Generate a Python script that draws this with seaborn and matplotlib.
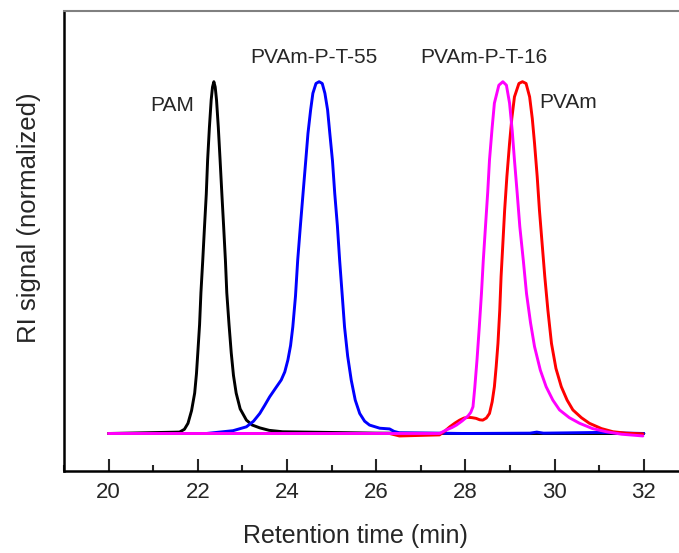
import matplotlib
matplotlib.use("Agg")
import matplotlib.pyplot as plt
from matplotlib.ticker import MultipleLocator
import seaborn as sns
import pandas as pd

# ---- data ----
pam_x = [20.0, 21.59, 21.70, 21.78, 21.86, 21.93, 21.97, 22.00, 22.04, 22.07, 22.11, 22.15,
         22.19, 22.22, 22.26, 22.30, 22.33, 22.36, 22.39, 22.42, 22.46, 22.50, 22.54, 22.58,
         22.62, 22.65, 22.70, 22.75, 22.80, 22.86, 22.95, 23.09, 23.22, 23.39, 23.60, 23.90,
         26.0, 28.0, 30.0, 32.0]
pam_y = [0.0, 0.004, 0.012, 0.029, 0.065, 0.115, 0.17, 0.229, 0.31, 0.40, 0.49, 0.587,
         0.68, 0.777, 0.87, 0.948, 0.985, 1.0, 0.985, 0.948, 0.87, 0.777, 0.68, 0.587,
         0.49, 0.40, 0.31, 0.229, 0.165, 0.115, 0.07, 0.038, 0.024, 0.016, 0.009, 0.005,
         0.001, 0.0, 0.0, 0.0]

p55_x = [20.0, 22.19, 22.79, 23.09, 23.25, 23.39, 23.50, 23.61, 23.75, 23.87, 23.95, 24.02,
         24.08, 24.13, 24.19, 24.24, 24.30, 24.36, 24.42, 24.47, 24.53, 24.58, 24.65, 24.72,
         24.79, 24.85, 24.91, 24.96, 25.02, 25.07, 25.13, 25.18, 25.24, 25.29, 25.36, 25.44,
         25.53, 25.63, 25.74, 25.85, 26.08, 26.30, 26.40, 26.52, 28.0, 29.45, 29.6, 29.75,
         31.0, 32.0]
p55_y = [0.0, 0.0, 0.008, 0.019, 0.035, 0.057, 0.08, 0.104, 0.13, 0.152, 0.175, 0.209,
         0.25, 0.303, 0.39, 0.493, 0.59, 0.683, 0.775, 0.853, 0.92, 0.967, 0.995, 1.0,
         0.995, 0.967, 0.92, 0.853, 0.775, 0.683, 0.59, 0.493, 0.39, 0.303, 0.22, 0.152,
         0.095, 0.057, 0.035, 0.024, 0.015, 0.013, 0.006, 0.002, 0.0, 0.001, 0.004, 0.001,
         0.003, 0.0]

pvam_x = [20.0, 26.3, 26.52, 27.42, 27.55, 27.65, 27.77, 27.87, 27.97, 28.06, 28.15, 28.24,
          28.32, 28.39, 28.47, 28.54, 28.60, 28.65, 28.69, 28.73, 28.77, 28.80, 28.84, 28.88,
          28.93, 28.99, 29.04, 29.10, 29.20, 29.28, 29.36, 29.44, 29.50, 29.55, 29.61, 29.66,
          29.72, 29.78, 29.85, 29.93, 30.03, 30.15, 30.28, 30.41, 30.60, 30.78, 31.05, 31.31,
          31.60, 31.98]
pvam_y = [0.0, 0.0, -0.007, -0.004, 0.008, 0.019, 0.03, 0.038, 0.044, 0.046, 0.045, 0.043,
          0.039, 0.038, 0.044, 0.057, 0.09, 0.133, 0.19, 0.256, 0.35, 0.446, 0.54, 0.635,
          0.73, 0.825, 0.895, 0.957, 0.995, 1.0, 0.995, 0.957, 0.895, 0.825, 0.73, 0.635,
          0.54, 0.446, 0.35, 0.256, 0.185, 0.133, 0.095, 0.067, 0.045, 0.029, 0.014, 0.005,
          0.001, -0.001]

p16_x = [20.0, 27.42, 27.57, 27.70, 27.80, 27.93, 28.06, 28.12, 28.17, 28.21, 28.26, 28.31,
         28.36, 28.40, 28.45, 28.50, 28.54, 28.60, 28.65, 28.75, 28.84, 28.92, 28.99, 29.05,
         29.10, 29.16, 29.22, 29.30, 29.37, 29.46, 29.55, 29.68, 29.81, 29.96, 30.11, 30.33,
         30.56, 30.85, 31.16, 31.50, 31.98]
p16_y = [0.0, 0.0, 0.010, 0.017, 0.024, 0.036, 0.050, 0.06, 0.076, 0.13, 0.209, 0.30,
         0.398, 0.49, 0.588, 0.685, 0.777, 0.87, 0.939, 0.99, 1.0, 0.99, 0.939, 0.86,
         0.777, 0.685, 0.588, 0.49, 0.398, 0.315, 0.247, 0.18, 0.133, 0.095, 0.067, 0.045,
         0.029, 0.014, 0.005, -0.002, -0.007]

series_names = ["PAM", "PVAm-P-T-55", "PVAm", "PVAm-P-T-16"]
series_colors = ["#000000", "#0000ff", "#ff0000", "#ff00ff"]

label_text = ["PAM", "PVAm-P-T-55", "PVAm-P-T-16", "PVAm"]
label_x = [21.42, 24.60, 28.41, 30.31]
label_y = [0.917, 1.052, 1.052, 0.925]

x_ticks = [20, 22, 24, 26, 28, 30, 32]

# ---- build long table ----
frames = []
for name, xs, ys in zip(series_names, [pam_x, p55_x, pvam_x, p16_x], [pam_y, p55_y, pvam_y, p16_y]):
    frames.append(pd.DataFrame({"t": xs, "s": ys, "sample": name}))
df = pd.concat(frames, ignore_index=True)

sns.set_style("ticks")
plt.rcParams["font.family"] = ["Liberation Sans", "DejaVu Sans"]

fig = plt.figure(figsize=(6.79, 5.53), dpi=100)
ax = fig.add_axes([64 / 679, 82 / 553, 646.7 / 679, 460.5 / 553])

sns.lineplot(data=df, x="t", y="s", hue="sample", hue_order=series_names,
             palette=dict(zip(series_names, series_colors)), sort=False, estimator=None,
             legend=False, linewidth=2.1, ax=ax)
for ln in ax.get_lines():
    ln.set_solid_joinstyle("round")

ax.set_xlim(19, 33.5)
ax.set_ylim(-0.1066, 1.2024)
ax.xaxis.set_major_locator(MultipleLocator(2))
ax.xaxis.set_minor_locator(MultipleLocator(1))
ax.set_xticks(x_ticks)
ax.set_xticklabels([str(v) for v in x_ticks])
ax.set_yticks([])
ax.tick_params(axis="x", which="major", direction="in", length=8.5, width=1.5,
               labelsize=16, pad=8, top=False)
ax.tick_params(axis="x", which="minor", direction="in", length=4.3, width=1.5, top=False)

for side in ["left", "bottom"]:
    ax.spines[side].set_linewidth(1.8)
    ax.spines[side].set_color("black")
ax.spines["top"].set_color("#808080")
ax.spines["top"].set_linewidth(1.5)
ax.spines["right"].set_visible(False)

ax.set_xlabel("Retention time (min)", fontsize=18)
ax.set_ylabel("RI signal (normalized)", fontsize=18.5)
ax.xaxis.set_label_coords(0.451, -0.115)
ax.yaxis.set_label_coords(-0.0356, 0.549)

for t, x, y in zip(label_text, label_x, label_y):
    ax.text(x, y, t, ha="center", va="baseline", fontsize=15)

fig.savefig("out.png", dpi=100)
